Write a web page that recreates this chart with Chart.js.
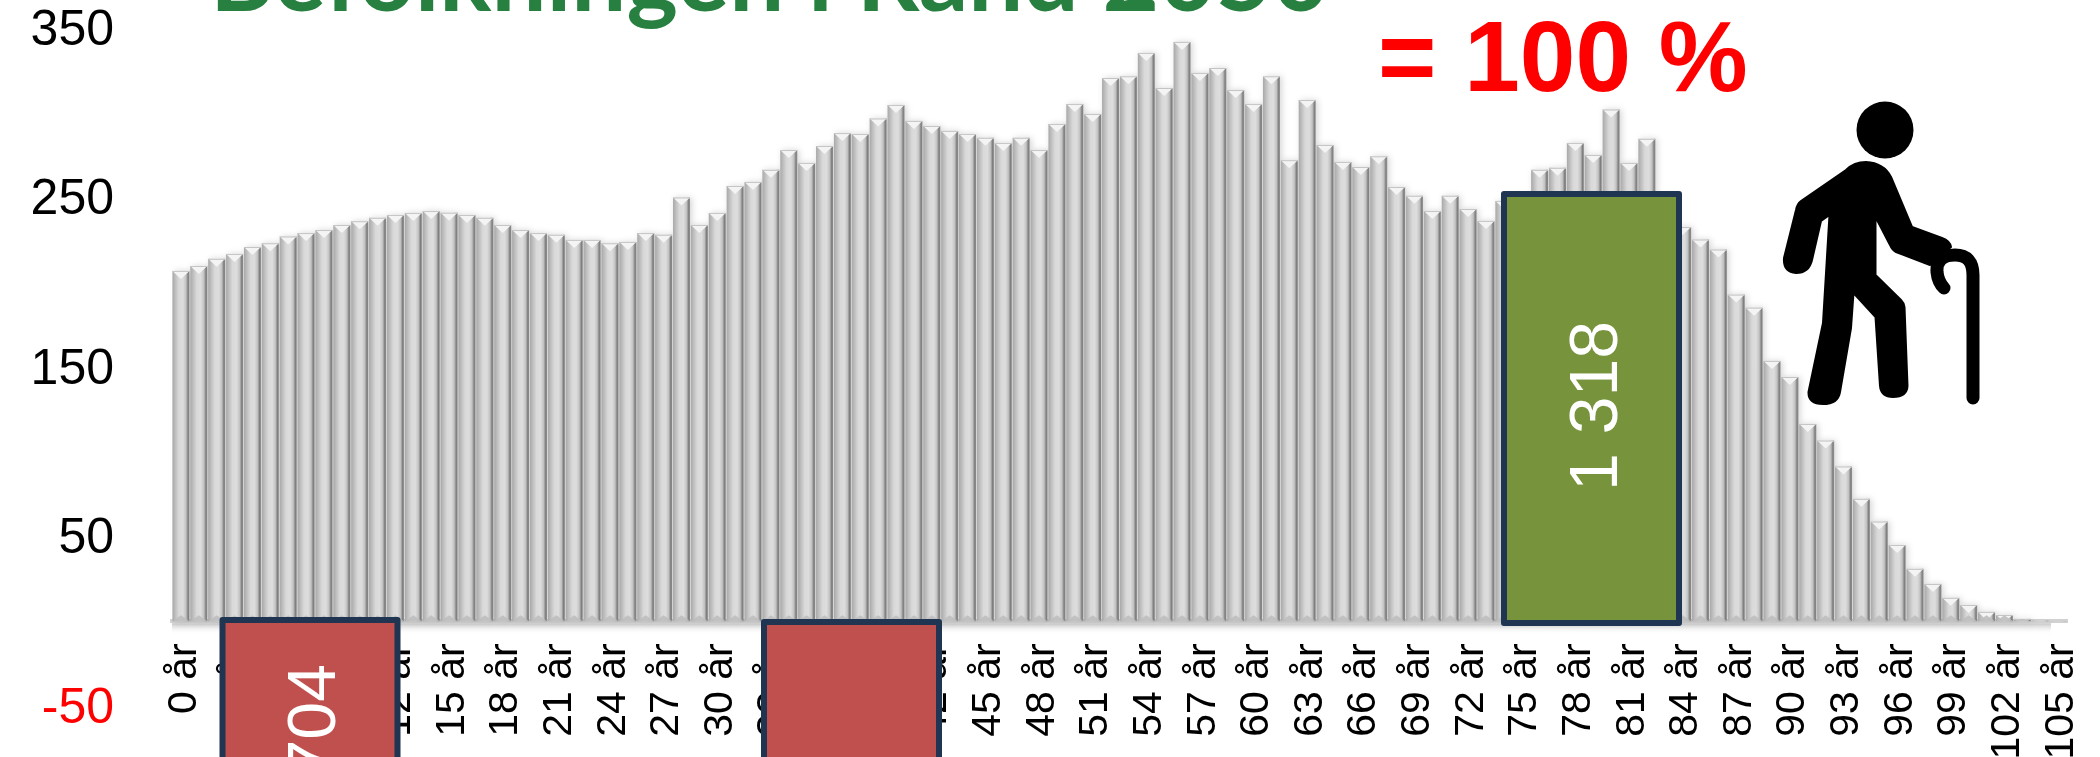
<!DOCTYPE html>
<html><head><meta charset="utf-8">
<style>
html,body{margin:0;padding:0;background:#fff;width:2100px;height:757px;overflow:hidden}
#wrap{position:relative;width:2100px;height:757px;overflow:hidden}
canvas{position:absolute;left:0;top:0}
svg{position:absolute;left:0;top:0}
svg text{font-family:'Liberation Sans',Arial,sans-serif}
svg text.t{font-family:Lato,sans-serif;font-weight:700}
</style>
<script src="https://cdn.jsdelivr.net/npm/chart.js@4"></script>
</head><body>
<div id="wrap">
<canvas id="c" width="2100" height="757"></canvas>
<svg width="2100" height="757" viewBox="0 0 2100 757">
  <text class="t" x="210" y="11" font-size="97.7" fill="#278040">Befolkningen i Rand 2050</text>
  <text x="1378" y="91" font-weight="700" font-size="100" fill="#ff0000">= 100 %</text>
  <rect x="222.5" y="620" width="175" height="160" fill="#C0504D" stroke="#1F3552" stroke-width="6" stroke-linejoin="round"/>
  <text transform="translate(335,664) rotate(-90)" text-anchor="end" font-size="68" fill="#fff">1 704</text>
  <rect x="764" y="622" width="175" height="160" fill="#C0504D" stroke="#1F3552" stroke-width="6" stroke-linejoin="round"/>
  <rect x="1504" y="194" width="175" height="429" fill="#77933C" stroke="#1F3552" stroke-width="6" stroke-linejoin="round"/>
  <text transform="translate(1617,406) rotate(-90)" text-anchor="middle" font-size="68" fill="#fff">1 318</text>
  <g fill="#000">
    <circle cx="1885" cy="130" r="28.5"/>
    <path stroke="#000" stroke-width="2" stroke-linejoin="round" d="M1866 162 Q1854 162 1846 170 L1801 201 Q1797 204 1796 210 L1784 258 Q1783 272 1796 273 Q1809 273 1812 260 L1821 221 L1829.5 215 L1823 323 L1808.5 392 Q1808 404 1823 404 Q1838 404 1840 392 L1851 328 L1853.5 293 L1875.5 317 L1880 386 Q1881 397 1893 397 Q1907 397 1907.5 386 L1904.5 307 Q1904 303 1901 300 L1875.5 275 L1875.5 217 L1890 245 Q1892 250 1896 252 L1930 265 L1951 247 Q1950 241 1942 238 L1912 227 L1891 177 Q1884 163 1866 162 Z"/>
  </g>
  <path d="M1973 398 L1973 275 Q1973 255 1955 255 Q1936 255 1937 272 Q1938 282 1944 288" fill="none" stroke="#000" stroke-width="13" stroke-linecap="round"/>
</svg>
</div>
<script>
const categories = ['0 år','1 år','2 år','3 år','4 år','5 år','6 år','7 år','8 år','9 år','10 år','11 år','12 år','13 år','14 år','15 år','16 år','17 år','18 år','19 år','20 år','21 år','22 år','23 år','24 år','25 år','26 år','27 år','28 år','29 år','30 år','31 år','32 år','33 år','34 år','35 år','36 år','37 år','38 år','39 år','40 år','41 år','42 år','43 år','44 år','45 år','46 år','47 år','48 år','49 år','50 år','51 år','52 år','53 år','54 år','55 år','56 år','57 år','58 år','59 år','60 år','61 år','62 år','63 år','64 år','65 år','66 år','67 år','68 år','69 år','70 år','71 år','72 år','73 år','74 år','75 år','76 år','77 år','78 år','79 år','80 år','81 år','82 år','83 år','84 år','85 år','86 år','87 år','88 år','89 år','90 år','91 år','92 år','93 år','94 år','95 år','96 år','97 år','98 år','99 år','100 år','101 år','102 år','103 år','104 år','105 år'];
const population = [206.7,209.6,213.8,216.7,220.8,223,227,229,230.8,233.8,236,238,239.7,240.9,242,241,239.7,238,233.8,230.8,229,228,225,225,223,223.8,229,228,250,233.8,
240.9,256.8,259.2,266.3,278,270.4,280.4,288,287.5,296.6,304.6,295.2,292.2,289.3,287.5,285.2,282.2,285.2,278,293.4,305.2,299.3,320.5,321.5,335.3,314.6,341.8,323.5,326.4,313.4,
305.2,321.5,272,307.5,281,271,268,274.3,256.2,251,242,251,243.2,236.2,248,251,266.3,267.5,282.2,275.1,301.9,270.4,284.6,245,232.6,225.2,219.3,192.7,185,153.6,
144.1,116.4,106.6,91.3,72.2,58.8,45,30.9,22,13.8,9.6,5.5,3.7,1.4,0.3,0.1];
const yTickMin = -50, yTickMax = 350, yTickStep = 100, xLabelEvery = 3;

function barGradient(ctx){
  const chart = ctx.chart, sx = chart.scales.x;
  if(!sx) return '#cccccc';
  const cx = sx.getPixelForValue(ctx.dataIndex), hw = 8.5;
  if(!Number.isFinite(cx)) return '#cccccc';
  const g = chart.ctx.createLinearGradient(cx-hw,0,cx+hw,0);
  g.addColorStop(0,'#a8a8a8'); g.addColorStop(.12,'#b8b8b8'); g.addColorStop(.38,'#d9d9d9');
  g.addColorStop(.62,'#dddddd'); g.addColorStop(.8,'#c2c2c2'); g.addColorStop(.92,'#808080'); g.addColorStop(1,'#909090');
  return g;
}
function zeroPadding(s){ s.paddingLeft=0; s.paddingRight=0; s.paddingTop=0; s.paddingBottom=0; }
const bevel = {
  id:'bevel',
  beforeDatasetsDraw(chart){
    const {ctx,chartArea:a,scales:{y}} = chart, y0 = y.getPixelForValue(0);
    const g = ctx.createLinearGradient(0,y0+2,0,y0+13);
    g.addColorStop(0,'rgba(150,150,150,.55)'); g.addColorStop(1,'rgba(255,255,255,0)');
    ctx.save(); ctx.fillStyle=g; ctx.fillRect(a.left,y0+2,a.right-a.left-16,11); ctx.restore();
  },
  beforeDatasetDraw(chart){
    const c = chart.ctx; c.save();
    c.shadowColor='rgba(0,0,0,.16)'; c.shadowBlur=6; c.shadowOffsetX=2;
  },
  afterDatasetDraw(chart){ chart.ctx.restore(); },
  afterDatasetsDraw(chart){
    const {ctx,scales:{y}} = chart, y0 = y.getPixelForValue(0);
    chart.getDatasetMeta(0).data.forEach(b=>{
      const h = y0-b.y; if(h<=0.6) return;
      const l=b.x-b.width/2, r=b.x+b.width/2, d=Math.min(8,h);
      ctx.fillStyle='#f4f4f4';
      ctx.beginPath(); ctx.moveTo(l,b.y); ctx.lineTo(r,b.y); ctx.lineTo(b.x,b.y+d); ctx.closePath(); ctx.fill();
      ctx.fillStyle='#c4c4c4'; ctx.fillRect(l,b.y,b.width,1);
      ctx.fillStyle='rgba(190,190,190,.9)';
      ctx.beginPath(); ctx.moveTo(l,y0); ctx.lineTo(r,y0); ctx.lineTo(b.x,y0-Math.min(6,h)); ctx.closePath(); ctx.fill();
    });
  }
};
new Chart(document.getElementById('c'),{
  type:'bar',
  data:{labels:categories,datasets:[{data:population,backgroundColor:barGradient,borderWidth:0,barPercentage:.95,categoryPercentage:1}]},
  plugins:[bevel],
  options:{
    responsive:false,animation:false,
    layout:{padding:{left:0,right:33,top:28,bottom:51}},
    plugins:{legend:{display:false},title:{display:false},tooltip:{enabled:false}},
    scales:{
      x:{
        position:{y:0},
        afterFit(s){s.height=0;zeroPadding(s);},
        grid:{display:false,drawTicks:false},
        border:{display:true,color:'#d2d2d2',width:4},
        ticks:{autoSkip:false,minRotation:90,maxRotation:90,padding:22,color:'#000',
          font:{family:'Liberation Sans',size:41,lineHeight:0.08},
          callback(v,i){return i%xLabelEvery===0?['',categories[i]]:'';}}
      },
      y:{
        min:yTickMin,max:yTickMax,
        afterFit(s){s.width=172;zeroPadding(s);},
        grid:{display:false,drawTicks:false},
        border:{display:false},
        ticks:{stepSize:yTickStep,padding:58,font:{family:'Liberation Sans',size:50,lineHeight:0.12},
          callback(v){return ['',String(v)];},
          color(c){return c.tick.value<0?'#ff0000':'#000000';}}
      }
    }
  }
});
</script>
</body></html>
